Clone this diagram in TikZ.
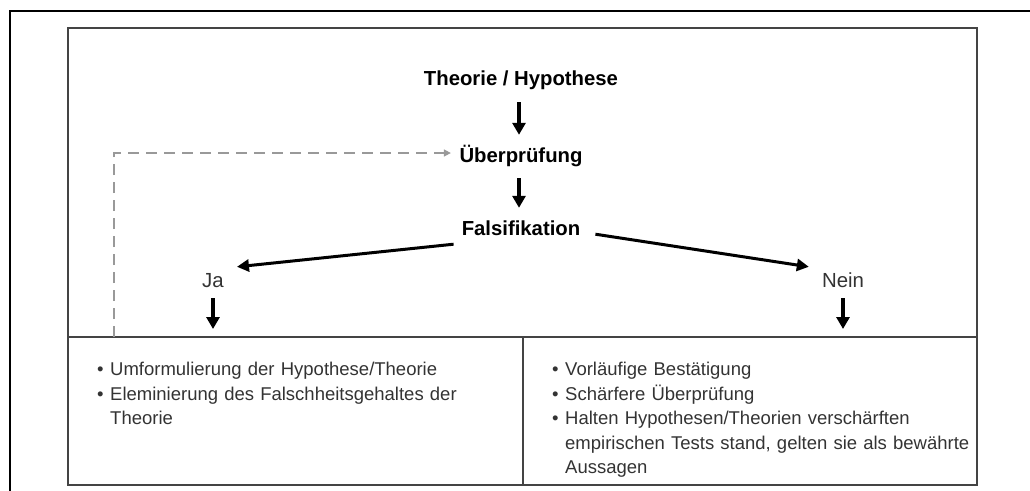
\documentclass[tikz,border=0pt]{standalone}
\usepackage{fontspec}
\setmainfont{Liberation Sans}
\usetikzlibrary{arrows.meta, positioning}
\definecolor{rahmengrau}{HTML}{444444}
\definecolor{strichgrau}{HTML}{999999}
\definecolor{textgrau}{HTML}{333333}
\newcommand{\punkt}[1]{\par\noindent\hangindent=13pt\hangafter=1\makebox[13pt][l]{\textbullet}#1\par}

\begin{document}
\begin{tikzpicture}[x=1pt, y=-1pt,
    titel/.style={font=\fontsize{20.3}{24}\selectfont\bfseries, inner sep=0pt, text height=15pt, text depth=5pt, anchor=base},
    zweig/.style={font=\fontsize{20.4}{24}\selectfont, textgrau, inner sep=0pt, text height=15pt, text depth=5pt, anchor=base},
    liste/.style={font=\fontsize{18.5}{24.5}\selectfont, textgrau, inner sep=0pt, align=left, anchor=base west},
    pfeil/.style={line width=3.2pt, -{Triangle[length=12pt, width=13pt]}},
    astpfeil/.style={line width=3pt, -{Triangle[length=12pt, width=12pt]}},
    rueckpfeil/.style={strichgrau, line width=1.5pt, dash pattern=on 11pt off 7pt, -{Triangle[length=7pt, width=7pt]}}]
  \useasboundingbox (0,0) rectangle (1030,490);

  % Rahmen
  \draw[line width=2pt] (10,495) -- (10,11) -- (1035,11);
  \draw[rahmengrau, line width=1.6pt] (68,28) rectangle (977,485);
  \draw[rahmengrau, line width=1.6pt] (68,337) -- (977,337);
  \draw[rahmengrau, line width=1.6pt] (523,337) -- (523,485);

  % Ablauf
  \node[titel] (theorie) at (521,85) {Theorie / Hypothese};
  \node[titel] (pruefung) at (521,162) {Überprüfung};
  \node[titel] (falsi) at (521,235) {Falsifikation};
  \draw[pfeil, shorten <=12pt, shorten >=12pt] (theorie.south -| 519,0) -- (pruefung.north -| 519,0);
  \draw[pfeil, shorten <=11pt, shorten >=12pt] (pruefung.south -| 519,0) -- (falsi.north -| 519,0);

  % Ja / Nein
  \node[zweig] (ja) at (213,287) {Ja};
  \node[zweig] (nein) at (843,287) {Nein};
  \draw[astpfeil] ([shift={(-8,4)}]falsi.south west) -- ([shift={(13,-5)}]ja.north east);
  \draw[astpfeil] ([shift={(15,-6)}]falsi.south east) -- ([shift={(-13,-5)}]nein.north west);

  \coordinate (ja ende) at (213,329);
  \coordinate (nein ende) at (843,329);
  \draw[pfeil, shorten <=6pt] (ja.south) -- (ja ende);
  \draw[pfeil, shorten <=6pt] (nein.south) -- (nein ende);

  % Rueckkopplung
  \coordinate (rueck) at (114,337);
  \draw[rueckpfeil, shorten >=8.5pt] (rueck) |- ([yshift=4pt]pruefung.west);

  % Folgerungen
  \node[liste, text width=430pt] (links) at (97,351) {\punkt{Umformulierung der Hypothese/Theorie}\punkt{Eleminierung des Falschheitsgehaltes der\newline Theorie}};
  \node[liste, text width=420pt] (rechts) at (552,351) {\punkt{Vorläufige Bestätigung}\punkt{Schärfere Überprüfung}\punkt{Halten Hypothesen/Theorien verschärften\newline empirischen Tests stand, gelten sie als bewährte\newline Aussagen}};
\end{tikzpicture}
\end{document}
